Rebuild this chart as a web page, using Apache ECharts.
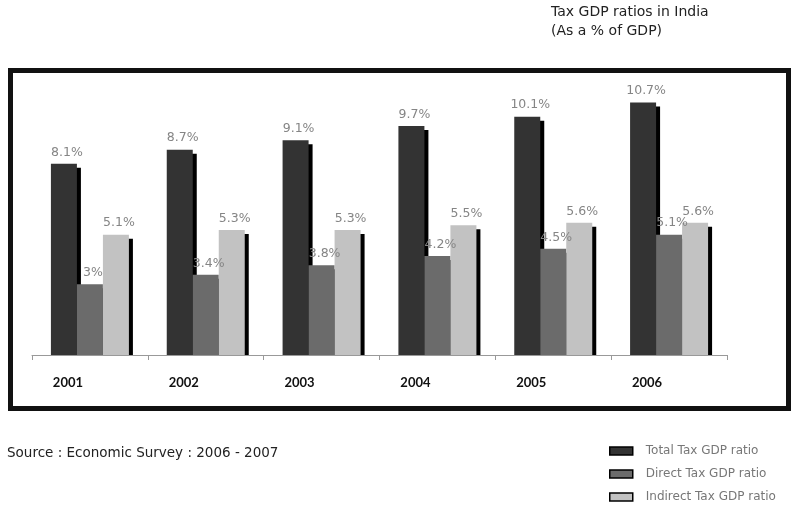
<!DOCTYPE html>
<html lang="en">
<head>
    <meta charset="UTF-8">
    <title>Tax GDP ratios in India</title>
    <script src="https://cdn.jsdelivr.net/npm/echarts@6/dist/echarts.min.js"></script>
    <style>
        body { margin: 0; background: #fff; }
    </style>
</head>
<body>
    <div id="chart" style="width: 800px; height: 513px;"></div>
    <script>
        const years = ['2001', '2002', '2003', '2004', '2005', '2006'];
        const totalTax = [8.1, 8.7, 9.1, 9.7, 10.1, 10.7];
        const directTax = [3, 3.4, 3.8, 4.2, 4.5, 5.1];
        const indirectTax = [5.1, 5.3, 5.3, 5.5, 5.6, 5.6];

        const font = '"DejaVu Sans", sans-serif';

        function makeSeries(name, data, color) {
            return {
                name: name,
                type: 'bar',
                data: data,
                barWidth: 26,
                barGap: '0%',
                itemStyle: {
                    color: color,
                    borderWidth: 0,
                    shadowColor: '#000',
                    shadowBlur: 0,
                    shadowOffsetX: 4,
                    shadowOffsetY: 4
                },
                label: {
                    show: true,
                    position: 'top',
                    distance: 5,
                    offset: [3, 0],
                    color: '#858585',
                    fontFamily: font,
                    fontSize: 12.5,
                    formatter: p => p.value + '%'
                }
            };
        }

        let chart = echarts.init(document.getElementById('chart'));

        let option = {
            animation: false,
            textStyle: { fontFamily: font },
            title: {
                text: 'Tax GDP ratios in India\n(As a % of GDP)',
                left: 546,
                top: -2,
                textStyle: {
                    fontFamily: font,
                    fontSize: 14,
                    fontWeight: 'normal',
                    color: '#222',
                    lineHeight: 19
                }
            },
            legend: {
                orient: 'vertical',
                left: 604,
                top: 440,
                icon: 'rect',
                itemWidth: 23,
                itemHeight: 8,
                itemGap: 11,
                itemStyle: {
                    borderColor: '#000',
                    borderWidth: 1.5,
                    shadowBlur: 0,
                    shadowOffsetX: 0,
                    shadowOffsetY: 0,
                    shadowColor: 'rgba(0,0,0,0)'
                },
                textStyle: { color: '#777', fontSize: 12, fontFamily: font, padding: [0, 0, 0, 8] },
                data: ['Total Tax GDP ratio', 'Direct Tax GDP ratio', 'Indirect Tax GDP ratio']
            },
            grid: {
                left: 32,
                right: 73,
                top: 71.8,
                bottom: 158
            },
            xAxis: {
                type: 'category',
                data: years,
                z: 4,
                axisLine: { lineStyle: { color: '#999', width: 1 } },
                axisTick: { show: true, length: 5, lineStyle: { color: '#999' } },
                axisLabel: {
                    margin: 21,
                    color: '#111',
                    fontSize: 13,
                    fontWeight: 'bold',
                    fontFamily: 'Lato, sans-serif',
                    padding: [0, 44, 0, 0]
                }
            },
            yAxis: {
                type: 'value',
                min: 0,
                max: 12,
                show: false
            },
            graphic: [
                {
                    // hides the drop shadow below the baseline
                    type: 'rect',
                    z: 3,
                    shape: { x: 25, y: 356, width: 715, height: 8 },
                    style: { fill: '#fff' },
                    silent: true
                },
                {
                    type: 'rect',
                    shape: { x: 10.5, y: 70.5, width: 778, height: 338 },
                    style: { fill: 'none', stroke: '#111', lineWidth: 5 },
                    silent: true
                },
                {
                    type: 'text',
                    left: 7,
                    top: 446,
                    style: {
                        text: 'Source : Economic Survey : 2006 - 2007',
                        fill: '#222',
                        font: '13.5px ' + font
                    }
                }
            ],
            series: [
                makeSeries('Total Tax GDP ratio', totalTax, '#333333'),
                makeSeries('Direct Tax GDP ratio', directTax, '#6b6b6b'),
                makeSeries('Indirect Tax GDP ratio', indirectTax, '#c2c2c2')
            ]
        };

        chart.setOption(option);
    </script>
</body>
</html>
